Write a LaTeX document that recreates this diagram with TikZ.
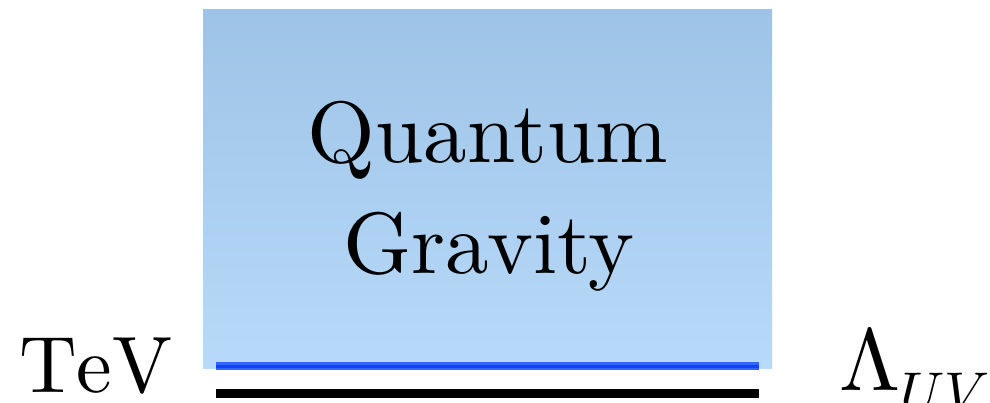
\documentclass[tikz,border=0pt]{standalone}
\usepackage{fontspec}
\usepackage{unicode-math}
\setmainfont{lmroman10-regular.otf}
\setmathfont{Latin Modern Math}
\usetikzlibrary{positioning}

\definecolor{qgtop}{RGB}{157,195,230}
\definecolor{qgbottom}{RGB}{184,218,250}
\definecolor{scalebar}{RGB}{45,105,255}
\definecolor{scalecore}{RGB}{20,65,250}

\tikzset{
    bigword/.style={anchor=base, inner sep=0pt, font=\fontsize{87}{111}\selectfont},
    scalelabel/.style={anchor=base west, inner sep=0pt},
}

\begin{document}
\begin{tikzpicture}[x=1pt, y=-1pt]
    \useasboundingbox (0,0) rectangle (990,402);

    % Quantum gravity region
    \shade[top color=qgtop, bottom color=qgbottom] (203,9) rectangle (772,368);
    \node[bigword] (quantum) at (488,162) {Quantum};
    \node[bigword] (gravity) at (489,273) {Gravity};

    % Scales
    \coordinate (uvleft) at (216,366);
    \coordinate (uvright) at (759,366);
    \coordinate (tevleft) at (216,393.3);
    \coordinate (tevright) at (759,393.3);
    \draw[line width=8pt, scalebar] (uvleft) -- (uvright);
    \draw[line width=3pt, scalecore] (uvleft) -- (uvright);
    \draw[line width=8.5pt, black] (tevleft) -- (tevright);

    % Labels
    \node[scalelabel, font=\fontsize{80}{90}\selectfont\addfontfeatures{Kerning=Off}] (tev) at (19,392) {TeV};
    \node[scalelabel, font=\fontsize{88}{100}\selectfont] (uv) at (839,390)
        {$\Lambda$\lower21pt\hbox{\fontsize{56}{56}\selectfont$UV$}};
\end{tikzpicture}
\end{document}
